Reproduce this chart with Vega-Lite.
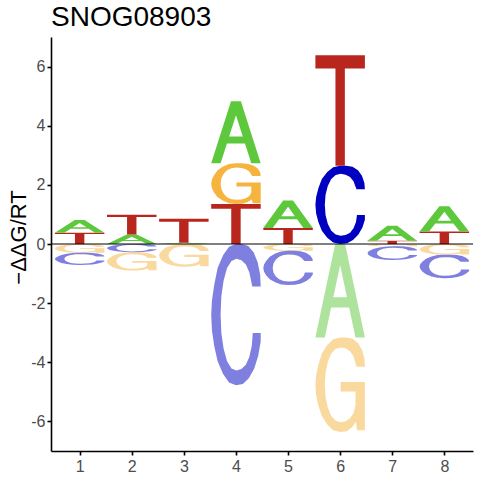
{
  "$schema": "https://vega.github.io/schema/vega-lite/v6.json",
  "width": 422,
  "height": 414,
  "autosize": {"type": "none"},
  "padding": {"left": 51, "top": 37, "right": 7, "bottom": 29},
  "title": {
    "text": "SNOG08903",
    "anchor": "start",
    "frame": "group",
    "font": "Liberation Sans",
    "fontSize": 28,
    "fontWeight": "normal",
    "color": "black",
    "offset": 5
  },
  "datasets": {
    "logo": [
      {"pos": 1, "letter": "T", "ymin": 0, "ymax": 0.38},
      {"pos": 1, "letter": "A", "ymin": 0.38, "ymax": 0.81},
      {"pos": 1, "letter": "G", "ymin": -0.3, "ymax": 0},
      {"pos": 1, "letter": "C", "ymin": -0.71, "ymax": -0.3},
      {"pos": 2, "letter": "A", "ymin": 0, "ymax": 0.32},
      {"pos": 2, "letter": "T", "ymin": 0.32, "ymax": 0.99},
      {"pos": 2, "letter": "C", "ymin": -0.28, "ymax": 0},
      {"pos": 2, "letter": "G", "ymin": -0.9, "ymax": -0.28},
      {"pos": 3, "letter": "A", "ymin": 0, "ymax": 0.04},
      {"pos": 3, "letter": "T", "ymin": 0.04, "ymax": 0.85},
      {"pos": 3, "letter": "G", "ymin": -0.77, "ymax": 0},
      {"pos": 4, "letter": "T", "ymin": 0, "ymax": 1.35},
      {"pos": 4, "letter": "G", "ymin": 1.35, "ymax": 2.73},
      {"pos": 4, "letter": "A", "ymin": 2.73, "ymax": 4.83},
      {"pos": 4, "letter": "C", "ymin": -4.78, "ymax": 0},
      {"pos": 5, "letter": "T", "ymin": 0, "ymax": 0.54},
      {"pos": 5, "letter": "A", "ymin": 0.54, "ymax": 1.47},
      {"pos": 5, "letter": "G", "ymin": -0.23, "ymax": 0},
      {"pos": 5, "letter": "C", "ymin": -1.39, "ymax": -0.23},
      {"pos": 6, "letter": "C", "ymin": 0, "ymax": 2.65},
      {"pos": 6, "letter": "T", "ymin": 2.65, "ymax": 6.38},
      {"pos": 6, "letter": "A", "ymin": -3.16, "ymax": 0},
      {"pos": 6, "letter": "G", "ymin": -6.36, "ymax": -3.16},
      {"pos": 7, "letter": "T", "ymin": 0, "ymax": 0.11},
      {"pos": 7, "letter": "A", "ymin": 0.11, "ymax": 0.62},
      {"pos": 7, "letter": "G", "ymin": -0.08, "ymax": 0},
      {"pos": 7, "letter": "C", "ymin": -0.54, "ymax": -0.08},
      {"pos": 8, "letter": "T", "ymin": 0, "ymax": 0.42},
      {"pos": 8, "letter": "A", "ymin": 0.42, "ymax": 1.28},
      {"pos": 8, "letter": "G", "ymin": -0.36, "ymax": 0},
      {"pos": 8, "letter": "C", "ymin": -1.16, "ymax": -0.36}
    ],
    "glyphs": [
      {"letter": "A", "pts": [[0,0],[0.4,1],[0.6,1],[1,0],[0.81,0],[0.682,0.32],[0.318,0.32],[0.362,0.43],[0.638,0.43],[0.5,0.775],[0.362,0.43],[0.318,0.32],[0.19,0]]},
      {"letter": "T", "pts": [[0,1],[1,1],[1,0.88],[0.595,0.88],[0.595,0],[0.405,0],[0.405,0.88],[0,0.88]]},
      {"letter": "C", "pts": [[1,0.7],[0.99,0.78],[0.94,0.87],[0.86,0.94],[0.75,0.985],[0.62,1],[0.5,1],[0.36,0.98],[0.24,0.92],[0.13,0.83],[0.06,0.71],[0.015,0.6],[0,0.5],[0.015,0.39],[0.06,0.28],[0.13,0.17],[0.24,0.08],[0.36,0.02],[0.5,0],[0.64,0.01],[0.76,0.05],[0.87,0.12],[0.95,0.21],[1,0.31],[1,0.37],[0.84,0.37],[0.82,0.28],[0.77,0.2],[0.7,0.145],[0.61,0.115],[0.51,0.105],[0.41,0.12],[0.32,0.17],[0.25,0.26],[0.205,0.37],[0.19,0.5],[0.205,0.63],[0.25,0.74],[0.32,0.83],[0.41,0.88],[0.51,0.895],[0.61,0.885],[0.7,0.855],[0.77,0.8],[0.83,0.7]]},
      {"letter": "G", "pts": [[1,0.69],[0.99,0.78],[0.94,0.87],[0.86,0.94],[0.75,0.985],[0.62,1],[0.5,1],[0.36,0.98],[0.24,0.92],[0.13,0.83],[0.06,0.71],[0.015,0.6],[0,0.5],[0.015,0.39],[0.06,0.28],[0.13,0.17],[0.24,0.08],[0.36,0.02],[0.5,0],[0.63,0.01],[0.74,0.05],[0.82,0.11],[0.84,0.02],[1,0.02],[1,0.53],[0.51,0.53],[0.51,0.43],[0.81,0.43],[0.81,0.28],[0.77,0.2],[0.7,0.145],[0.61,0.115],[0.51,0.105],[0.41,0.12],[0.32,0.17],[0.25,0.26],[0.205,0.37],[0.19,0.5],[0.205,0.63],[0.25,0.74],[0.32,0.83],[0.41,0.88],[0.51,0.895],[0.61,0.885],[0.7,0.855],[0.77,0.8],[0.83,0.69]]}
    ]
  },
  "layer": [
    {
      "data": {"name": "logo"},
      "transform": [
        {"lookup": "letter", "from": {"data": {"name": "glyphs"}, "key": "letter", "fields": ["pts"]}},
        {"flatten": ["pts"], "as": ["pt"]},
        {"window": [{"op": "row_number", "as": "k"}], "groupby": ["pos", "letter"]},
        {"calculate": "datum.pos - 0.475 + 0.95 * datum.pt[0]", "as": "x"},
        {"calculate": "datum.ymin + (datum.ymax - datum.ymin) * datum.pt[1]", "as": "y"}
      ],
      "mark": {"type": "line", "strokeWidth": 0, "interpolate": "linear"},
      "encoding": {
        "x": {
          "field": "x",
          "type": "quantitative",
          "scale": {"domain": [0.45, 8.55], "nice": false, "zero": false},
          "axis": {
            "values": [1, 2, 3, 4, 5, 6, 7, 8],
            "title": null,
            "labelPadding": 3,
            "labelFontSize": 16,
            "labelColor": "#4D4D4D",
            "labelFont": "Liberation Sans"
          }
        },
        "y": {
          "field": "y",
          "type": "quantitative",
          "scale": {"domain": [-7, 7], "nice": false},
          "axis": {
            "values": [-6, -4, -2, 0, 2, 4, 6],
            "labelExpr": "'' + datum.value",
            "labelPadding": 2,
            "labelFontSize": 16,
            "labelColor": "#4D4D4D",
            "labelFont": "Liberation Sans",
            "title": "−ΔΔG/RT",
            "titleFontSize": 22,
            "titleFontWeight": "normal",
            "titleColor": "black",
            "titleFont": "Liberation Sans",
            "titleX": -26,
            "titleY": 200,
            "titleAngle": -90,
            "titleAlign": "center",
            "titleBaseline": "alphabetic"
          }
        },
        "fill": {
          "field": "letter",
          "type": "nominal",
          "scale": {"domain": ["A", "C", "G", "T"], "range": ["#5DC83C", "#0000C0", "#F6B43E", "#B9261E"]},
          "legend": null
        },
        "opacity": {"condition": {"test": "datum.ymax <= 0", "value": 0.5}, "value": 1},
        "detail": [{"field": "pos"}, {"field": "letter"}],
        "order": {"field": "k", "type": "quantitative"}
      }
    },
    {
      "data": {"values": [{}]},
      "mark": {"type": "rule", "color": "black", "strokeWidth": 1},
      "encoding": {"y": {"datum": 0}}
    }
  ],
  "config": {
    "view": {"stroke": null},
    "axis": {
      "grid": false,
      "domainColor": "black",
      "domainWidth": 1.6,
      "tickColor": "black",
      "tickWidth": 1.6,
      "tickSize": 4
    }
  }
}
